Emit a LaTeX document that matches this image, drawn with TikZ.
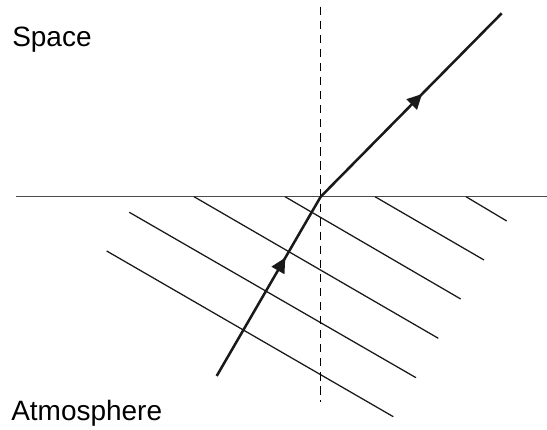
\documentclass[tikz,border=0pt]{standalone}
\usepackage{fontspec}
\setmainfont{Liberation Sans}
\usetikzlibrary{arrows.meta, decorations.markings}
\tikzset{
    label text/.style={anchor=base west, inner sep=0pt, font=\fontsize{19.9}{24}\selectfont},
    ray/.style={line width=1.8pt, black!90, line join=round},
    ray tip/.style={postaction={decorate, decoration={markings,
        mark=at position #1 with {\arrow{Triangle[length=0.37cm, width=0.36cm]}}}}}
}
\begin{document}
\begin{tikzpicture}
    \useasboundingbox (-8.0175, -5.8325) rectangle (5.6575, 4.9175);

    % Layers
    \node[label text] (space) at (-7.7175, 3.75) {Space};
    \node[label text] (atmo) at (-7.7425, -5.6) {Atmosphere};

    % Boundary
    \draw[line width=1.1pt, black!70] (-7.6175, 0) -- (5.6575, 0);
    \foreach \xa/\ya/\xb/\yb in {-5.35/-1.3575/1.815/-5.5, -4.785/-0.39/2.3825/-4.525,
        -3.1675/0/2.94/-3.54, -0.8925/0/3.5/-2.5575,
        1.3575/0/4.0825/-1.5825, 3.6325/0/4.65/-0.6075} {
        \draw[line width=0.9pt, black!90] (\xa, \ya) -- (\xb, \yb);
    }

    % Normal
    \draw[line width=0.9pt, dash pattern=on 5.9pt off 4.1pt] (0, 4.75) -- (0, -5.125);

    % Ray
    \coordinate (src) at (-2.6, -4.4825);
    \coordinate (hit) at (0, 0);
    \coordinate (out) at (4.525, 4.585);
    \draw[ray, ray tip=0.66] (src) -- (hit);
    \draw[ray, ray tip=0.56] (hit) -- (out);
\end{tikzpicture}
\end{document}
